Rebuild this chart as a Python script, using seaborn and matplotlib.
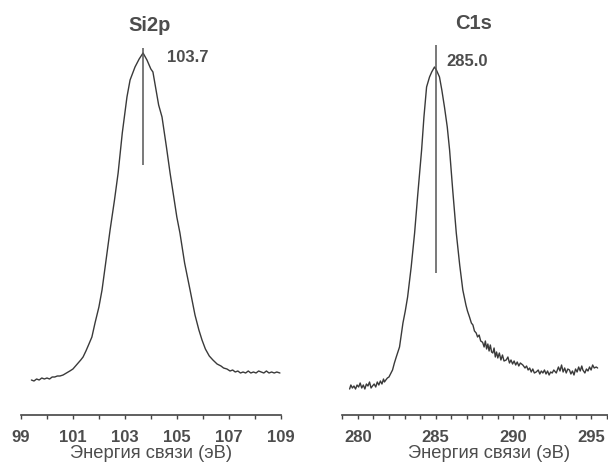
import matplotlib
matplotlib.use("Agg")
import matplotlib.pyplot as plt
from matplotlib.ticker import MultipleLocator
import numpy as np
import pandas as pd
import seaborn as sns

# Si 2p photoelectron spectrum: binding energy (eV) and intensity (arb. units)
si_energy = [
    99.40, 99.50, 99.60, 99.70, 99.80, 99.90, 100.00, 100.10, 100.20, 100.30,
    100.40, 100.50, 100.62, 100.75, 100.88, 101.00, 101.10, 101.20, 101.30, 101.39,
    101.50, 101.60, 101.73, 101.85, 102.00, 102.12, 102.25, 102.43, 102.60, 102.74,
    102.90, 103.08, 103.20, 103.39, 103.55, 103.70, 103.85, 104.00, 104.08, 104.20,
    104.30, 104.43, 104.60, 104.74, 104.90, 105.00, 105.12, 105.30, 105.51, 105.70,
    105.85, 105.97, 106.10, 106.25, 106.39, 106.55, 106.70, 106.80, 106.93, 107.05,
    107.15, 107.25, 107.35, 107.45, 107.55, 107.65, 107.75, 107.85, 107.95, 108.05,
    108.15, 108.25, 108.35, 108.45, 108.55, 108.65, 108.75, 108.85, 108.97,
]
si_intensity = [
    35, 34, 36, 35, 37, 36, 37, 36, 38, 38,
    39, 39, 40, 42, 44, 46, 49, 52, 55, 58,
    64, 70, 78, 92, 108, 125, 150, 185, 215, 242,
    282, 318, 335, 348, 356, 362, 355, 346, 343, 325,
    310, 298, 268, 242, 215, 198, 182, 152, 125, 100,
    85, 75, 66, 59, 55, 51, 49, 47, 46, 44,
    45, 43, 44, 42, 43, 42, 44, 42, 43, 42,
    44, 43, 42, 44, 42, 43, 42, 43, 42,
]

# C 1s photoelectron spectrum
c_energy = [
    279.47, 279.55, 279.65, 279.75, 279.85, 279.95, 280.05, 280.15, 280.25, 280.35,
    280.45, 280.55, 280.65, 280.75, 280.85, 280.94, 281.05, 281.15, 281.25, 281.35,
    281.45, 281.55, 281.65, 281.71, 281.80, 281.90, 282.00, 282.10, 282.23, 282.35,
    282.47, 282.68, 282.90, 283.05, 283.20, 283.43, 283.65, 283.85, 284.10, 284.25,
    284.42, 284.61, 284.75, 284.93, 285.05, 285.25, 285.40, 285.57, 285.75, 285.90,
    286.10, 286.33, 286.55, 286.75, 286.95, 287.05, 287.18, 287.30, 287.40, 287.50,
    287.61, 287.70, 287.80, 287.90, 288.00, 288.04, 288.12, 288.20, 288.28, 288.36,
    288.44, 288.52, 288.60, 288.68, 288.76, 288.84, 288.92, 289.00, 289.10, 289.20,
    289.30, 289.40, 289.54, 289.65, 289.75, 289.85, 289.95, 290.05, 290.15, 290.25,
    290.35, 290.45, 290.61, 290.75, 290.85, 290.95, 291.05, 291.15, 291.25, 291.35,
    291.47, 291.60, 291.70, 291.80, 291.90, 292.00, 292.10, 292.20, 292.30, 292.40,
    292.50, 292.60, 292.76, 292.90, 293.00, 293.10, 293.20, 293.30, 293.40, 293.50,
    293.61, 293.70, 293.80, 293.90, 294.00, 294.10, 294.20, 294.30, 294.40, 294.47,
    294.60, 294.70, 294.80, 294.90, 295.00, 295.10, 295.20, 295.33, 295.42,
]
c_intensity = [
    26, 30, 27, 29, 26, 30, 28, 32, 27, 30,
    26, 31, 29, 33, 27, 29, 31, 28, 33, 30,
    34, 31, 36, 33, 35, 37, 38, 41, 45, 52,
    58, 68, 92, 104, 118, 148, 182, 220, 265, 298,
    328, 338, 343, 348, 345, 338, 325, 308, 288, 265,
    225, 182, 150, 125, 110, 104, 98, 92, 90, 84,
    82, 78, 80, 74, 73, 72, 68, 74, 66, 71,
    64, 70, 63, 62, 67, 58, 63, 57, 62, 55,
    60, 54, 55, 58, 52, 55, 51, 54, 50, 53,
    49, 52, 50, 47, 49, 45, 47, 43, 46, 42,
    43, 45, 41, 44, 42, 45, 41, 44, 40, 43,
    42, 45, 42, 48, 44, 50, 43, 47, 42, 46,
    45, 41, 44, 40, 46, 43, 48, 44, 49, 45,
    42, 46, 44, 48, 45, 50, 47, 48, 47,
]

# Labelled ticks on each energy axis
si_ticks = [99, 101, 103, 105, 107, 109]
c_ticks = [280, 285, 290, 295]

# Peak positions with their marker extents and labels
peak_names = ["Si2p", "C1s"]
peak_positions = [103.7, 285.0]
peak_labels = ["103.7", "285.0"]
marker_bottom = [250, 142]
marker_top = [367, 370]

xlabel_text = "Энергия связи (эВ)"

sns.set_style("white")
plt.rcParams["font.family"] = ["Liberation Sans", "DejaVu Sans"]

line_color = "#3a3a3a"
text_color = "#4d4d4d"

fig = plt.figure(figsize=(6.08, 4.63), dpi=100)
ax_si = fig.add_axes([21 / 608, 48 / 463, 259.7 / 608, 400 / 463])
ax_c = fig.add_axes([342.3 / 608, 48 / 463, 293.7 / 608, 400 / 463])

si_df = pd.DataFrame({"energy": si_energy, "intensity": si_intensity})
c_df = pd.DataFrame({"energy": c_energy, "intensity": c_intensity})

sns.lineplot(data=si_df, x="energy", y="intensity", ax=ax_si,
             color=line_color, linewidth=1.0, sort=False)
sns.lineplot(data=c_df, x="energy", y="intensity", ax=ax_c,
             color=line_color, linewidth=1.0, sort=False)

ax_si.set_xlim(99, 109)
ax_c.set_xlim(279, 279 + 293.7 / 15.55)

panels = [
    (ax_si, si_ticks, (103.97, 390), (104.62, 358)),
    (ax_c, c_ticks, (287.47, 392), (285.70, 354)),
]
for i, (ax, ticks, title_xy, label_xy) in enumerate(panels):
    ax.set_ylim(0, 400)
    ax.vlines(peak_positions[i], marker_bottom[i], marker_top[i],
              color="#555555", linewidth=1.1)
    ax.text(title_xy[0], title_xy[1], peak_names[i], ha="center", va="center",
            fontsize=14.5, fontweight="bold", color=text_color)
    ax.text(label_xy[0], label_xy[1], peak_labels[i], ha="left", va="center",
            fontsize=12, fontweight="bold", color=text_color)

    for side in ("left", "right", "top"):
        ax.spines[side].set_visible(False)
    ax.spines["bottom"].set_color("#444444")
    ax.spines["bottom"].set_linewidth(1.2)
    ax.set_yticks([])
    ax.set_ylabel("")
    ax.set_xticks(ticks)
    ax.set_xticklabels([str(t) for t in ticks], fontweight="bold")
    ax.xaxis.set_minor_locator(MultipleLocator(1))
    ax.tick_params(axis="x", which="both", direction="out", length=3, width=1,
                   color="#444444", bottom=True)
    ax.tick_params(axis="x", which="major", pad=8, labelsize=12,
                   labelcolor=text_color)
    ax.set_xlabel(xlabel_text, fontsize=13.2, color=text_color, labelpad=0)
    ax.patch.set_alpha(0)

fig.savefig("out.png", dpi=100)
